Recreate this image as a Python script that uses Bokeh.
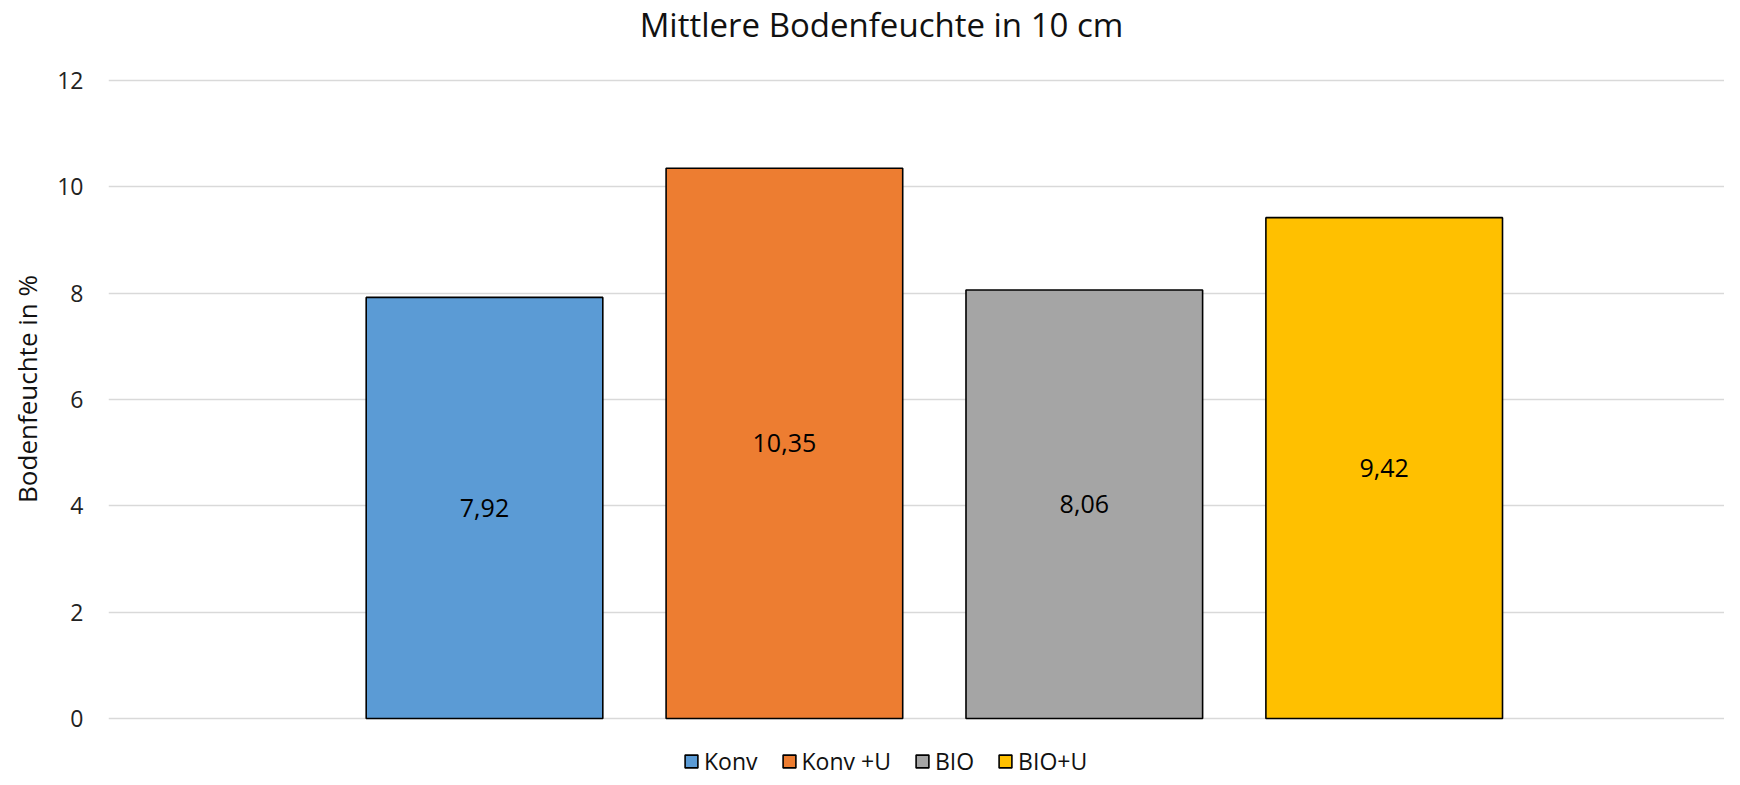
from bokeh.plotting import figure
from bokeh.models import (ColumnDataSource, Range1d, FixedTicker, Label, Legend,
                          LegendItem)
from bokeh.core.properties import value
from bokeh.embed import file_html
from bokeh.resources import INLINE

# ---- data ----
series = ["Konv", "Konv +U", "BIO", "BIO+U"]
values = [7.92, 10.35, 8.06, 9.42]
colors = ["#5B9BD5", "#ED7D31", "#A5A5A5", "#FFC000"]
y_ticks = [0, 2, 4, 6, 8, 10, 12]
title_text = "Mittlere Bodenfeuchte in 10 cm"
y_label = "Bodenfeuchte in %"

FONT = "Open Sans"
W, H = 1724, 777
ML = 108
frame_w = W - ML
px_per_unit_x = 299.9
first_center_px = 376.0          # frame left -> first bar centre
x0 = -first_center_px / px_per_unit_x
x1 = x0 + frame_w / px_per_unit_x

px_per_unit_y = 638.0 / 12.0
zero_px = 718.0                  # pixel row of value 0 from the top
y0 = -(H - zero_px) / px_per_unit_y
y1 = zero_px / px_per_unit_y

pos = list(range(len(series)))
labels = [f"{v:.2f}".replace(".", ",") for v in values]
src = ColumnDataSource(dict(x=pos, mid=[v / 2 for v in values], lab=labels))

p = figure(width=W, height=H, output_backend="svg", toolbar_location=None,
           x_range=Range1d(x0, x1), y_range=Range1d(y0, y1),
           min_border_left=ML, min_border_right=0, min_border_top=0,
           min_border_bottom=0)
p.outline_line_color = None
p.background_fill_color = "white"
p.border_fill_color = "white"

p.xaxis.visible = False
p.xgrid.visible = False
p.ygrid.ticker = FixedTicker(ticks=y_ticks)
p.ygrid.grid_line_color = "#D9D9D9"
p.ygrid.grid_line_width = 1.5
p.yaxis.ticker = FixedTicker(ticks=y_ticks)
p.yaxis.axis_line_color = None
p.yaxis.major_tick_line_color = None
p.yaxis.minor_tick_line_color = None
p.yaxis.major_tick_out = 0
p.yaxis.major_tick_in = 0
p.yaxis.major_label_standoff = 25
p.yaxis.major_label_text_font = FONT
p.yaxis.major_label_text_font_size = "23px"
p.yaxis.major_label_text_color = "#222222"
p.yaxis.axis_label = y_label
p.yaxis.axis_label_text_font = FONT
p.yaxis.axis_label_text_font_size = "26px"
p.yaxis.axis_label_text_font_style = "normal"
p.yaxis.axis_label_text_color = "#111111"
p.yaxis.axis_label_standoff = 9

renderers = []
for i in range(len(series)):
    r = p.vbar(x=[pos[i]], bottom=0, top=[values[i]], width=0.789,
               fill_color=colors[i], line_color="black", line_width=1.6)
    renderers.append(r)

p.text(x="x", y="mid", text="lab", source=src, text_align="center",
       text_baseline="middle", text_font=value(FONT), text_font_size="25px",
       text_color="black")

# title (frame spans whole figure height)
p.add_layout(Label(x=773, y=H - 24, x_units="screen", y_units="screen",
                   text=title_text, text_align="center",
                   text_baseline="middle", text_font=FONT,
                   text_font_size="33px", text_color="#111111"))

legend = Legend(items=[LegendItem(label=series[i], renderers=[renderers[i]])
                       for i in range(len(series))],
                orientation="horizontal", location=(575, 0),
                padding=0, margin=0, spacing=23, label_standoff=5,
                glyph_width=16, glyph_height=16,
                label_text_font=FONT, label_text_font_size="23px",
                label_text_color="#111111",
                background_fill_alpha=0, border_line_color=None)
p.add_layout(legend, "center")

open("out.html", "w").write(file_html(p, INLINE))
